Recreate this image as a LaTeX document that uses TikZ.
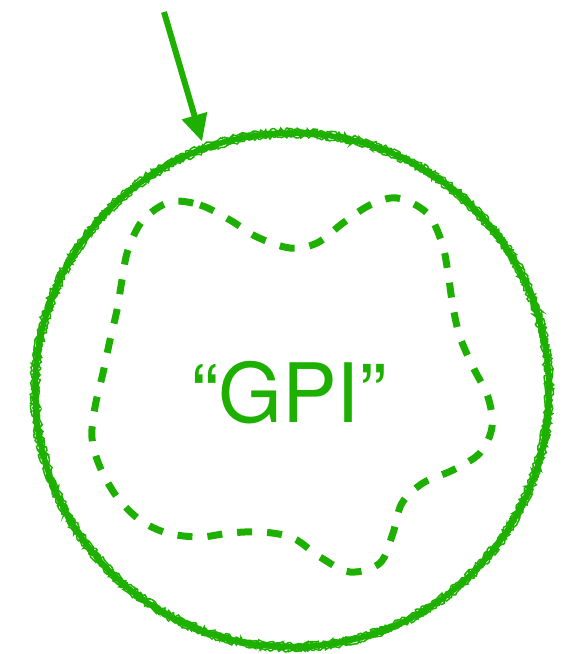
\documentclass[tikz,border=0pt]{standalone}
\usepackage{fontspec}
\newfontfamily\gpifont{TeX Gyre Heros}
\usetikzlibrary{arrows.meta,decorations.pathmorphing}
\definecolor{gpigreen}{RGB}{30,176,0}

\begin{document}
\begin{tikzpicture}[x=1pt, y=-1pt]
\tikzset{
  ring/.style={circle, minimum size=514pt, inner sep=0pt, draw=none},
  chalk/.style={draw=gpigreen, line width=5.5pt},
  grain/.style={draw=gpigreen, line width=1.5pt,
    decorate, decoration={random steps, segment length=2pt, amplitude=1.6pt}},
  region/.style={draw=gpigreen, line width=7pt, dash pattern=on 15pt off 15pt},
  pointer/.style={-{Triangle[length=27pt,width=25pt]}, draw=gpigreen, fill=gpigreen,
    line width=6pt, shorten >=7pt},
  label/.style={font=\gpifont\fontsize{82}{90}\selectfont, text=gpigreen, inner sep=0pt}
}
\useasboundingbox (0,0) rectangle (574,654);

\node[ring] (boundary) at (292,390) {};
\node[label] (gpi) at (289,392.5) {“GPI”};
\coordinate (src) at (164,12);

% pencil-like circle
\draw[chalk] (boundary.center) circle (257);
\foreach \r/\s in {253.5/1, 257/2, 260.5/3, 255/4, 259/5, 257/6} {
  \pgfmathsetseed{\s}
  \draw[grain] (boundary.center) circle (\r);
}

% dashed inner region
\draw[region] plot[smooth cycle, tension=0.55] coordinates {
  (170,202) (200,205) (230,220) (257,237) (290,248) (317,243) (343,223)
  (370,205) (397,198) (427,213) (442,243) (448,273) (453,307) (460,337)
  (473,367) (488,397) (492,427) (480,453) (453,470) (423,483) (402,503)
  (393,533) (380,563) (350,572) (320,557) (293,538) (262,532) (230,533)
  (200,537) (167,533) (140,520) (117,497) (100,467) (92,438) (95,407)
  (103,373) (110,340) (117,310) (122,280) (128,250) (143,220)};

\draw[pointer] (src) -- (boundary.110.3);
\end{tikzpicture}
\end{document}
